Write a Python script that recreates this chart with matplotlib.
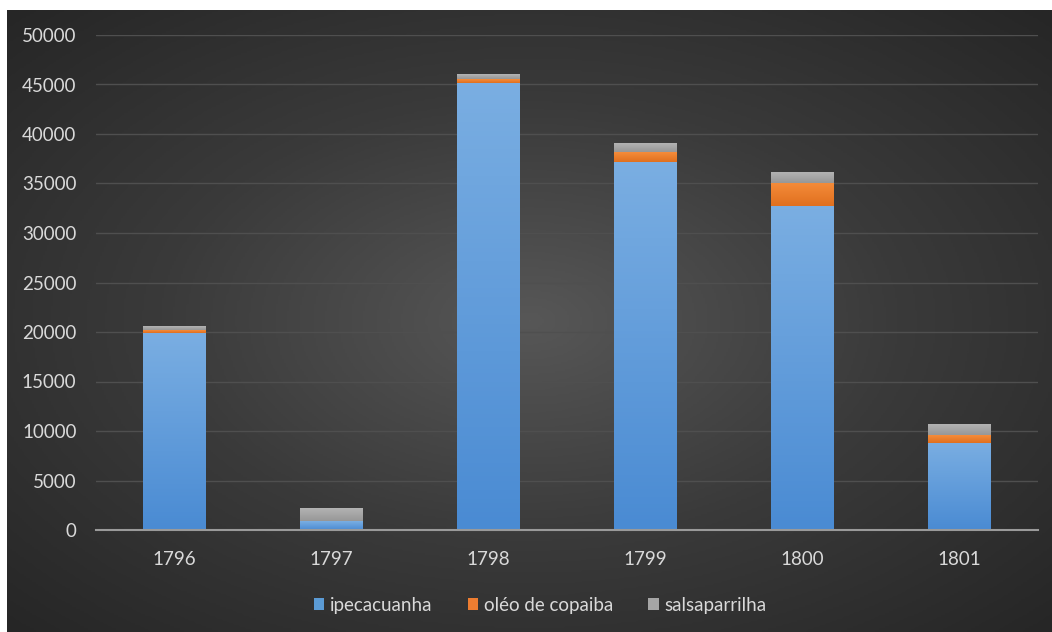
import numpy as np
import matplotlib.pyplot as plt
from matplotlib.colors import LinearSegmentedColormap

# Exportações por ano (arrobas / libras)
anos = ['1796', '1797', '1798', '1799', '1800', '1801']
ipecacuanha = [19900, 900, 45200, 37200, 32700, 8800]
oleo_copaiba = [300, 0, 400, 1000, 2400, 800]
salsaparrilha = [400, 1300, 500, 900, 1100, 1100]

series = [
    ('ipecacuanha', ipecacuanha, '#5b9bd5', '#7aaee2', '#4a8bd3'),
    ('oléo de copaiba', oleo_copaiba, '#ed7d31', '#f58c3a', '#e0701f'),
    ('salsaparrilha', salsaparrilha, '#a5a5a5', '#b3b3b3', '#979797'),
]

plt.rcParams['font.family'] = ['Lato', 'DejaVu Sans']
txt = '#d9d9d9'

fig = plt.figure(figsize=(10.52, 6.32), dpi=100)
fig.patch.set_facecolor('white')

# fundo escuro com gradiente radial
bg = fig.add_axes([7 / 1052, 0, 1045 / 1052, 622 / 632])
yy, xx = np.mgrid[-1:1:300j, -1:1:500j]
r = np.sqrt(xx ** 2 + yy ** 2) / np.sqrt(2)
bg_cmap = LinearSegmentedColormap.from_list('bg', ['#575757', '#3a3a3a', '#262626'])
bg.imshow(r, cmap=bg_cmap, aspect='auto', extent=[0, 1, 0, 1], vmin=0, vmax=1)
bg.set_axis_off()

ax = fig.add_axes([96 / 1052, (632 - 530) / 632, 942 / 1052, 495 / 632])
ax.patch.set_alpha(0)

x = np.arange(len(anos))
bottom = np.zeros(len(anos))
handles = []
grad = np.linspace(0, 1, 100).reshape(-1, 1)
for nome, vals, cor, topo, base in series:
    vals = np.array(vals, dtype=float)
    bars = ax.bar(x, vals, 0.4, bottom=bottom, color=cor, label=nome, zorder=3)
    cmap = LinearSegmentedColormap.from_list(nome, [base, topo])
    for b in bars:
        if b.get_height() <= 0:
            continue
        x0, y0 = b.get_x(), b.get_y()
        im = ax.imshow(grad, cmap=cmap, origin='lower', aspect='auto',
                       extent=[x0, x0 + b.get_width(), y0, y0 + b.get_height()],
                       zorder=3.5)
        im.set_clip_path(b)
    handles.append(bars)
    bottom += vals

ax.set_xlim(-0.5, len(anos) - 0.5)
ax.set_ylim(0, 50000)
ax.set_yticks(np.arange(0, 50001, 5000))
ax.set_xticks(x)
ax.set_xticklabels(anos)
ax.yaxis.grid(True, color='#4f4f4f', linewidth=1, zorder=0)
ax.set_axisbelow(True)
ax.tick_params(axis='both', length=0, labelsize=13.5, labelcolor=txt)
ax.tick_params(axis='y', pad=14)
ax.tick_params(axis='x', pad=15)
for s in ['top', 'right', 'left']:
    ax.spines[s].set_visible(False)
ax.spines['bottom'].set_color('#9a9a9a')
ax.spines['bottom'].set_linewidth(1.5)
ax.spines['bottom'].set_zorder(4)

leg = fig.legend(handles=handles, loc='center', ncol=3,
                 bbox_to_anchor=(540 / 1052, 27 / 632), frameon=False,
                 fontsize=13.5, handlelength=0.55, handleheight=0.55,
                 handletextpad=0.3, columnspacing=1.9)
for t in leg.get_texts():
    t.set_color(txt)

fig.savefig('out.png', dpi=100)
